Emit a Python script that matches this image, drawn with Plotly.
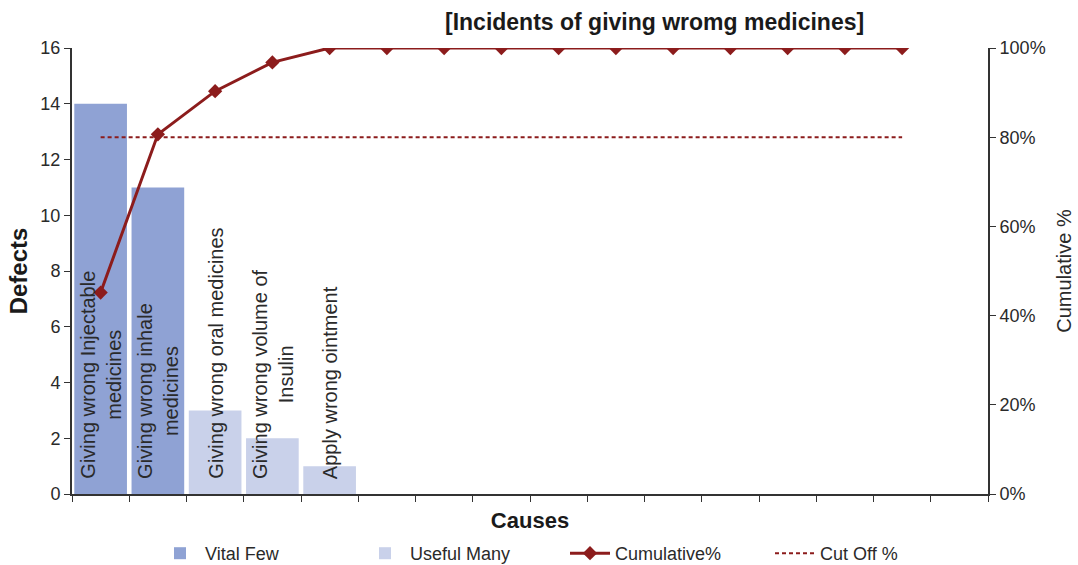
import plotly.graph_objects as go

causes = [
    "Giving wrong Injectable<br>medicines",
    "Giving wrong inhale<br>medicines",
    "Giving wrong oral medicines",
    "Giving wrong volume of<br>Insulin",
    "Apply wrong ointment",
]
defects = [14, 11, 3, 2, 1]
vital_few_count = 2
n_points = 15          # points on the cumulative line
n_slots = 16           # category slots on the x axis
cutoff = 0.8

total = sum(defects)
cum = []
s = 0
for i in range(n_points):
    if i < len(defects):
        s += defects[i]
    cum.append(s / total)

xpos = [i + 0.5 for i in range(n_points)]

FONT = "Liberation Sans, Arial, sans-serif"
RED = "#8c1c1c"
AX = "#333333"

W, H = 1078, 565
ML, MR, MT, MB = 72, 90, 48, 71
pw = W - ML - MR
ph = H - MT - MB

fig = go.Figure()
fig.add_trace(go.Bar(
    x=xpos[:vital_few_count], y=defects[:vital_few_count], width=0.92,
    marker=dict(color="#8fa2d4", line=dict(width=0)), name="Vital Few"))
fig.add_trace(go.Bar(
    x=xpos[vital_few_count:len(defects)], y=defects[vital_few_count:], width=0.92,
    marker=dict(color="#c9d1ea", line=dict(width=0)), name="Useful Many"))
fig.add_trace(go.Scatter(
    x=xpos, y=cum, yaxis="y2", mode="lines+markers", name="Cumulative%",
    line=dict(color=RED, width=3),
    marker=dict(symbol="diamond", size=11, color=RED)))
fig.add_trace(go.Scatter(
    x=[xpos[0], xpos[-1]], y=[cutoff, cutoff], yaxis="y2", mode="lines",
    name="Cut Off %", line=dict(color=RED, width=2, dash="4px,3px")))

anns = []
for i, c in enumerate(causes):
    anns.append(dict(
        x=xpos[i], y=0, xref="x", yref="y", text=c, textangle=-90,
        showarrow=False, xanchor="center", yanchor="bottom", yshift=13,
        font=dict(family=FONT, size=20, color="#2a2a2a"), align="center"))
anns.append(dict(text="<b>[Incidents of giving wromg medicines]</b>",
                 x=(654 - ML) / pw, xref="paper", xanchor="center",
                 y=(H - MB - 22) / ph, yref="paper", yanchor="middle",
                 showarrow=False, font=dict(family=FONT, size=23, color="#1a1a1a")))

fig.update_layout(
    width=W, height=H,
    margin=dict(l=ML, r=MR, t=MT, b=MB, autoexpand=False),
    paper_bgcolor="white", plot_bgcolor="white",
    font=dict(family=FONT, size=18, color="#2a2a2a"),
    barmode="overlay",
    showlegend=True,
    legend=dict(orientation="h", x=(565 - ML) / pw, xanchor="center", y=-(535 - (H - MB)) / ph,
                yanchor="top", font=dict(size=18), traceorder="normal", itemwidth=40,
                entrywidth=150, entrywidthmode="pixels"),
    xaxis=dict(range=[0, n_slots], tickmode="array",
               tickvals=list(range(n_slots + 1)), showticklabels=False,
               ticks="outside", ticklen=6, tickcolor=AX,
               showline=True, linecolor=AX, linewidth=2, showgrid=False,
               zeroline=False,
               title=dict(text="<b>Causes</b>", font=dict(size=22, color="#1a1a1a"), standoff=12)),
    yaxis=dict(range=[0, 16], dtick=2, ticks="outside", ticklen=6, tickcolor=AX,
               showline=True, linecolor=AX, linewidth=2, showgrid=False, zeroline=False,
               tickfont=dict(size=18),
               title=dict(text="<b>Defects</b>", font=dict(size=24, color="#1a1a1a"), standoff=6)),
    yaxis2=dict(range=[0, 1], dtick=0.2, tickformat=".0%", overlaying="y", side="right",
                ticks="outside", ticklen=6, tickcolor=AX,
                showline=True, linecolor=AX, linewidth=2, showgrid=False, zeroline=False,
                tickfont=dict(size=18),
                title=dict(text="Cumulative %", font=dict(size=20), standoff=12)),
    annotations=anns,
)

fig.write_html("out.html", config={"displayModeBar": False},
               post_script="document.body.style.margin='0';")
